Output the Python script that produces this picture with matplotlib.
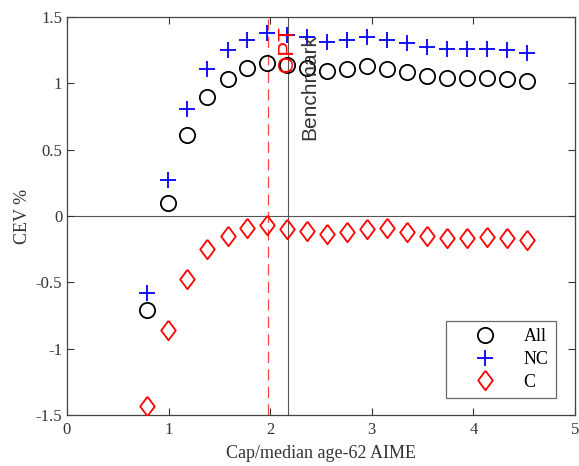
import matplotlib
matplotlib.use("Agg")
import matplotlib.pyplot as plt

x = [0.79, 0.99, 1.18, 1.38, 1.58, 1.77, 1.97, 2.17, 2.36, 2.56,
     2.76, 2.95, 3.15, 3.35, 3.54, 3.74, 3.94, 4.13, 4.33, 4.53]
cev_all = [-0.71, 0.10, 0.61, 0.90, 1.035, 1.115, 1.155, 1.14, 1.118, 1.093,
           1.108, 1.13, 1.11, 1.085, 1.055, 1.037, 1.037, 1.037, 1.032, 1.015]
cev_nc = [-0.583, 0.271, 0.804, 1.105, 1.25, 1.33, 1.38, 1.364, 1.347, 1.31,
          1.326, 1.35, 1.326, 1.306, 1.276, 1.256, 1.256, 1.256, 1.25, 1.23]
cev_c = [-1.43, -0.859, -0.477, -0.251, -0.148, -0.09, -0.068, -0.098, -0.11, -0.136,
         -0.118, -0.095, -0.093, -0.118, -0.151, -0.168, -0.163, -0.161, -0.168, -0.181]
opt_x = 1.98
bench_x = 2.18
xticks = [0, 1, 2, 3, 4, 5]
yticks = [-1.5, -1, -0.5, 0, 0.5, 1, 1.5]
ytick_labels = ["-1.5", "-1", "-0.5", "0", "0.5", "1", "1.5"]

serif = "Liberation Serif"
sans = "Liberation Sans"

fig = plt.figure(figsize=(5.79, 4.66), dpi=100)
ax = fig.add_axes([0.1157, 0.1094, 0.8774, 0.8541])

diamond = [(0, 1), (0.75, 0), (0, -1), (-0.75, 0), (0, 1)]

ax.axhline(0, color="#555555", lw=0.8, zorder=1)
ax.axvline(bench_x, color="#555555", lw=0.8, zorder=1)
ax.axvline(opt_x, color="#ff4444", lw=0.9, ls=(0, (9, 5)), zorder=1)

ax.plot(x, cev_all, ls="none", marker="o", ms=11, mfc="none", mec="black", mew=1.3, label="All", zorder=3)
ax.plot(x, cev_nc, ls="none", marker="+", ms=12, color="blue", mew=1.3, label="NC", zorder=3)
ax.plot(x, cev_c, ls="none", marker=diamond, ms=14, mfc="none", mec="red", mew=1.3, label="C", zorder=3)

ax.text(bench_x - 0.01, 1.085, "OPT", rotation=90, color="red", fontsize=16,
        family=sans, ha="center", va="bottom", zorder=4)
ax.text(bench_x + 0.21, 0.57, "Benchmark", rotation=90, color="#333333", fontsize=15,
        family=sans, ha="center", va="bottom", zorder=4)

ax.set_xlim(0, 5)
ax.set_ylim(-1.5, 1.5)
ax.set_xticks(xticks)
ax.set_xticklabels([str(t) for t in xticks], family=serif, fontsize=12)
ax.set_yticks(yticks)
ax.set_yticklabels(ytick_labels, family=serif, fontsize=12)
ax.tick_params(direction="in", top=True, right=True, length=5, width=0.8, colors="#333333", labelcolor="#333333")
ax.tick_params(axis="x", pad=5)
for s in ax.spines.values():
    s.set_color("#444444")
    s.set_linewidth(0.9)

ax.set_xlabel("Cap/median age-62 AIME", family=serif, fontsize=13, color="#333333", labelpad=5)
ax.set_ylabel("CEV %", family=serif, fontsize=13, color="#333333", labelpad=3)

leg = ax.legend(loc="lower right", bbox_to_anchor=(0.962, 0.043), prop={"family": serif, "size": 13},
                frameon=True, fancybox=False, edgecolor="#444444", handletextpad=0.4,
                borderpad=0.4, labelspacing=0.32, handlelength=3.5, borderaxespad=0)
leg.get_frame().set_linewidth(0.9)

fig.savefig("out.png", dpi=100)
